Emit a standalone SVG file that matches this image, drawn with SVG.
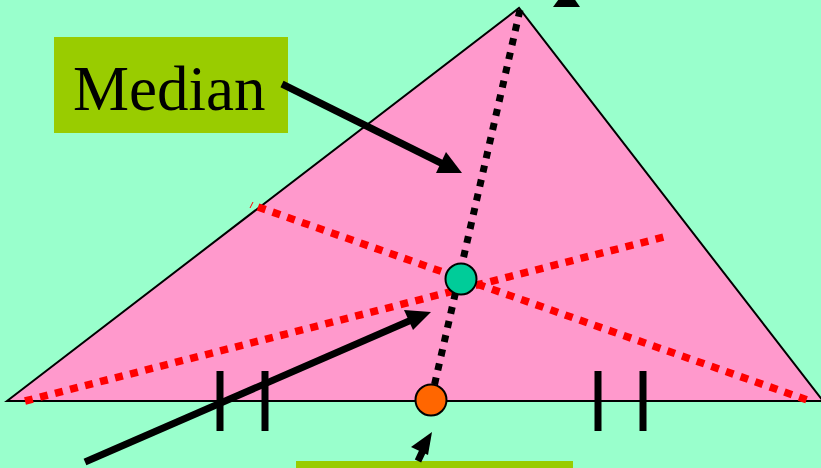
<svg xmlns="http://www.w3.org/2000/svg" width="821" height="468" viewBox="0 0 821 468">
<style>
.red{stroke:#FF0000;stroke-width:7.5;stroke-dasharray:8 7.5;fill:none}
.med{stroke:#000;stroke-width:7;stroke-dasharray:7 7.5;fill:none}
.tick{stroke:#000;stroke-width:7}
.arr{stroke:#000;stroke-width:7;fill:none}
.label{fill:#99CC00}
.txt{font-family:"Liberation Serif","Times New Roman",serif;font-size:63px;fill:#000}
</style>
<rect width="821" height="468" fill="#99FFCC"/>
<g id="triangle">
<polygon points="7,401 519,8 823,401" fill="#FF99CC" stroke="#000" stroke-width="2"/>
</g>
<g id="top-arrowhead"><polygon points="553,7 580,7 567,-12" fill="#000"/></g>
<g id="medians">
<line class="red" x1="25" y1="401" x2="668" y2="236"/>
<line class="red" x1="258" y1="207" x2="810" y2="401"/>
<line x1="250" y1="208" x2="253" y2="202" stroke="#FF0000" stroke-width="1"/>
<line class="med" x1="520" y1="10" x2="431" y2="400"/>
</g>
<g id="ticks">
<line class="tick" x1="220" y1="371" x2="220" y2="431"/>
<line class="tick" x1="265" y1="371" x2="265" y2="431"/>
<line class="tick" x1="598" y1="371" x2="598" y2="431"/>
<line class="tick" x1="643" y1="371" x2="643" y2="431"/>
</g>
<g id="centroid"><circle cx="461" cy="279" r="15.5" fill="#00CC99" stroke="#000" stroke-width="2"/></g>
<g id="midpoint"><circle cx="431" cy="400" r="15.5" fill="#FF6600" stroke="#000" stroke-width="2"/></g>
<g id="median-label">
<rect class="label" x="54" y="37" width="234" height="96"/>
<text class="txt" x="73" y="110">Median</text>
</g>
<g id="bottom-label"><rect class="label" x="296" y="461" width="277" height="10"/></g>
<g id="connectors">
<line class="arr" x1="282" y1="84" x2="445" y2="165"/>
<polygon points="446,152 436,173 462,173" fill="#000"/>
<line class="arr" x1="85" y1="462" x2="416" y2="318"/>
<polygon points="404,310 413,330 431,312" fill="#000"/>
<line class="arr" x1="418" y1="461" x2="425" y2="446"/>
<polygon points="411,447 428,455 432,432" fill="#000"/>
</g>
</svg>
